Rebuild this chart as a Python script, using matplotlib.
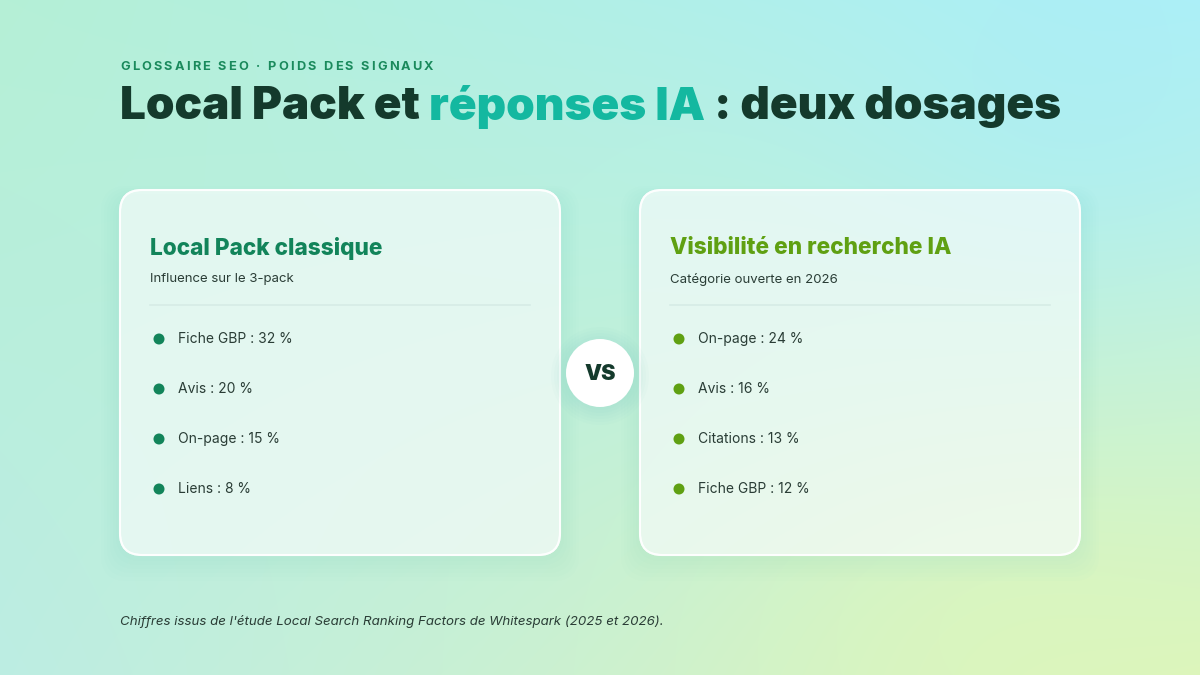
import numpy as np
import matplotlib
matplotlib.use("Agg")
import matplotlib.pyplot as plt
from matplotlib.patches import FancyBboxPatch, Circle

# --- data ---
kicker = "GLOSSAIRE SEO · POIDS DES SIGNAUX"
title_parts = ["Local Pack et ", "réponses IA", " : deux dosages"]
footer = "Chiffres issus de l'étude Local Search Ranking Factors de Whitespark (2025 et 2026)."

left_title = "Local Pack classique"
left_sub = "Influence sur le 3-pack"
left_labels = ["Fiche GBP", "Avis", "On-page", "Liens"]
left_values = [32, 20, 15, 8]

right_title = "Visibilité en recherche IA"
right_sub = "Catégorie ouverte en 2026"
right_labels = ["On-page", "Avis", "Citations", "Fiche GBP"]
right_values = [24, 16, 13, 12]

W, H = 1200, 675
DARK = "#143a2c"
TEAL = "#14b8a0"
GREEN = "#12845a"
OLIVE = "#5fa012"
TXT = "#2a3d36"

plt.rcParams["font.family"] = ["Inter", "DejaVu Sans"]

fig = plt.figure(figsize=(12, 6.75), dpi=100)
ax = fig.add_axes([0, 0, 1, 1])
ax.set_xlim(0, W)
ax.set_ylim(H, 0)
ax.axis("off")
renderer = fig.canvas.get_renderer()

# background gradient
yy, xx = np.mgrid[0:H, 0:W]
u, v = xx / W, yy / H
tl = np.array([0.71, 0.94, 0.84])
tr = np.array([0.68, 0.94, 0.97])
bl = np.array([0.74, 0.93, 0.89])
br = np.array([0.86, 0.96, 0.74])
bg = ((1 - u)[..., None] * (1 - v)[..., None] * tl + u[..., None] * (1 - v)[..., None] * tr
      + (1 - u)[..., None] * v[..., None] * bl + u[..., None] * v[..., None] * br)
blob = np.exp(-(((xx - 1000) / 260) ** 2 + ((yy - 620) / 160) ** 2))
bg = bg * (1 - 0.5 * blob[..., None]) + 0.5 * blob[..., None] * np.array([0.88, 0.97, 0.72])
blob2 = np.exp(-(((xx - 1080) / 220) ** 2 + ((yy - 110) / 160) ** 2))
bg = bg * (1 - 0.5 * blob2[..., None]) + 0.5 * blob2[..., None] * np.array([0.66, 0.93, 0.97])
ax.imshow(np.clip(bg, 0, 1), extent=[0, W, H, 0], zorder=0, aspect="auto")

# header kicker with letter spacing
x = 120
for ch in kicker:
    t = ax.text(x, 67, ch, fontsize=9.2, fontweight="bold", color="#1a8a5c",
                va="center", ha="left")
    x += t.get_window_extent(renderer=renderer).width + 2.2 if ch != " " else 5.5

x = 120
for i, part in enumerate(title_parts):
    t = ax.text(x, 107, part, fontsize=33, fontweight="black", color=TEAL if i == 1 else DARK,
                va="center", ha="left")
    x += t.get_window_extent(renderer=renderer).width


def card(x0, title, sub, labels, values, color):
    # soft shadow
    for k in range(6):
        ax.add_patch(FancyBboxPatch((x0 - 4 - k * 3, 196 - k * 2), 440 + 8 + k * 6, 365 + k * 6,
                                    boxstyle="round,pad=0,rounding_size=26",
                                    fc="#7fcfc4", ec="none", alpha=0.025, zorder=1))
    ax.add_patch(FancyBboxPatch((x0, 190), 440, 365, boxstyle="round,pad=0,rounding_size=22",
                                fc="white", ec="white", lw=1.5, alpha=0.66, zorder=2))
    ax.add_patch(FancyBboxPatch((x0, 190), 440, 365, boxstyle="round,pad=0,rounding_size=22",
                                fc="none", ec="white", lw=1.5, alpha=0.9, zorder=3))
    ax.text(x0 + 30, 248, title, fontsize=16.3, fontweight="heavy", color=color,
            va="center", ha="left", zorder=4)
    ax.text(x0 + 30, 279, sub, fontsize=9.5, color=TXT, va="center", ha="left", zorder=4)
    ax.plot([x0 + 30, x0 + 410], [305, 305], color="#d6ece6", lw=1.2, zorder=4)
    for j, (lab, val) in enumerate(zip(labels, values)):
        yy_ = 339 + 50 * j
        ax.add_patch(Circle((x0 + 39, yy_), 5.5, fc=color, ec="none", zorder=4))
        ax.text(x0 + 58, yy_, f"{lab} : {val} %", fontsize=10, color=TXT,
                va="center", ha="left", zorder=4)


card(120, left_title, left_sub, left_labels, left_values, GREEN)
card(640, right_title, right_sub, right_labels, right_values, OLIVE)

# VS badge
for k in range(6):
    ax.add_patch(Circle((600, 376), 34 + k * 3, fc="#6cc7bb", ec="none", alpha=0.03, zorder=5))
ax.add_patch(Circle((600, 373), 34, fc="white", ec="none", zorder=6))
ax.text(600, 374, "VS", fontsize=15.5, fontweight="black", color=DARK,
        va="center", ha="center", zorder=7)

ax.text(120, 621, footer, fontsize=9.6, style="italic", color=TXT, va="center", ha="left")

fig.savefig("out.png", dpi=100)
